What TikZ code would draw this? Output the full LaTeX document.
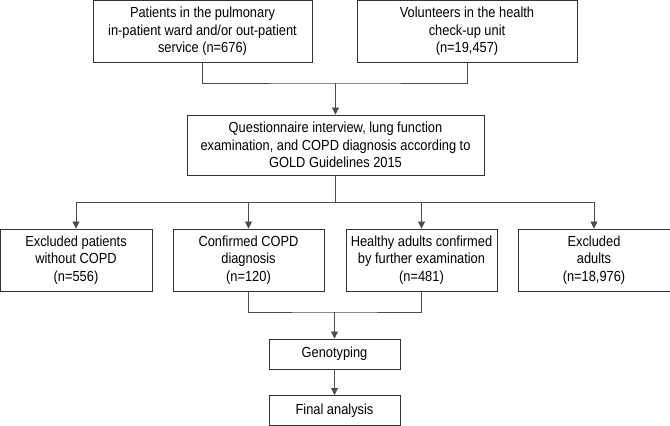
\documentclass[tikz,border=0pt]{standalone}
\usepackage{fontspec}
\setmainfont{Liberation Sans}[FakeStretch=0.88]
\usetikzlibrary{arrows.meta, calc, positioning}

\tikzset{
    flowbox/.style={draw=black!80, line width=0.9pt, align=center, inner sep=2pt,
        font=\fontsize{14.6}{17.5}\selectfont},
    flowline/.style={draw=black!70, line width=0.9pt},
    flowarrow/.style={flowline, -{Triangle[length=7pt, width=7pt]}}
}

\begin{document}
\begin{tikzpicture}[x=1pt, y=1pt]
            \useasboundingbox (0,0) rectangle (670,426);

            % Sources
            \node[flowbox, minimum width=219, minimum height=62] (patients) at (202.5,394.5)
                {Patients in the pulmonary\\in-patient ward and/or out-patient\\service (n=676)};
            \node[flowbox, minimum width=220, minimum height=62] (volunteers) at (467,394.5)
                {Volunteers in the health\\check-up unit\\(n=19,457)};

            % Examination
            \node[flowbox, minimum width=297, minimum height=60] (exam) at (335.5,281)
                {Questionnaire interview, lung function\\examination, and COPD diagnosis according to\\GOLD Guidelines 2015};

            % Outcome boxes
            \node[flowbox, minimum width=152, minimum height=62] (exclpat) at (76,166)
                {Excluded patients\\without COPD\\(n=556)};
            \node[flowbox, minimum width=151, minimum height=62] (copd) at (248.5,166)
                {Confirmed COPD\\diagnosis\\(n=120)};
            \node[flowbox, minimum width=151, minimum height=62] (healthy) at (421.5,166)
                {Healthy adults confirmed\\by further examination\\(n=481)};
            \node[flowbox, minimum width=152, minimum height=62] (excladu) at (594,166)
                {Excluded\\adults\\(n=18,976)};

            % Genotyping and analysis
            \node[flowbox, minimum width=131, minimum height=30] (geno) at (334.5,72) {Genotyping};
            \node[flowbox, minimum width=131, minimum height=30] (final) at (334.5,15.5) {Final analysis};

            % Merge sources into examination
            \coordinate (merge) at (335.5,343);
            \draw[flowline] (patients.south) |- (merge) -| (volunteers.south);
            \draw[flowarrow] (merge) -- (exam.north);

            % Split examination into outcomes
            \coordinate (split) at (335.5,224);
            \draw[flowline] (exam.south) -- (split);
            \draw[flowline] (exclpat.north |- split) -- (excladu.north |- split);
            \foreach \n in {exclpat, copd, healthy, excladu}
                \draw[flowarrow] (\n.north |- split) -- (\n.north);

            % Join confirmed groups for genotyping
            \coordinate (join) at (334.5,114);
            \draw[flowline] (copd.south) |- (join) -| (healthy.south);
            \draw[flowarrow] (join) -- (geno.north);
            \draw[flowarrow] (geno.south) -- (final.north);
        \end{tikzpicture}
\end{document}
